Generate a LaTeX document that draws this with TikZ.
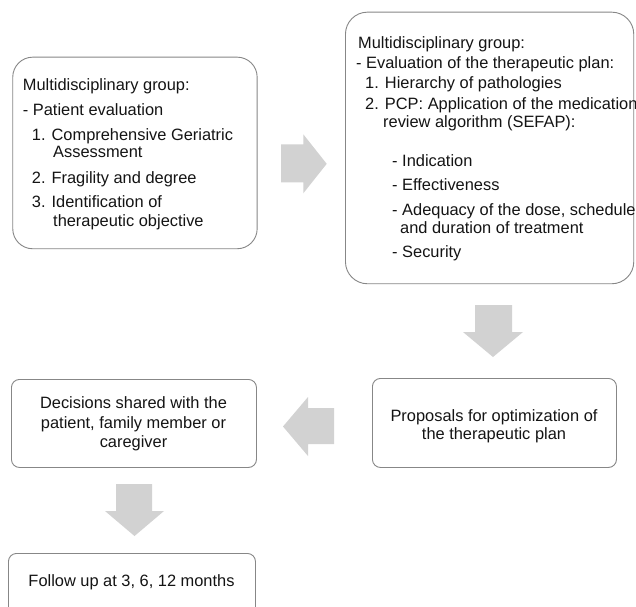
\documentclass[tikz,border=0pt]{standalone}
\usepackage{fontspec}
\setmainfont{Liberation Sans}
\definecolor{boxgray}{RGB}{135,135,135}
\definecolor{arrowgray}{RGB}{210,210,210}
\definecolor{textblack}{RGB}{20,20,20}
\begin{document}
\begin{tikzpicture}[x=1pt,y=-1pt,
  roundbox/.style={draw=boxgray, line width=0.9pt, rounded corners=#1, inner sep=0pt, anchor=north west, fill=white},
  txt/.style={anchor=base west, inner sep=0pt, font=\fontsize{16.4}{19}\selectfont, text=textblack},
  ctxt/.style={anchor=base, inner sep=0pt, font=\fontsize{16.4}{19}\selectfont, text=textblack},
  blockarrow/.style={fill=arrowgray, draw=none}]
\useasboundingbox (0,0) rectangle (636,606);
\clip (0,0) rectangle (636,606);
\fill[white] (0,0) rectangle (636,606);

% boxes
\node[roundbox=20pt, minimum width=244.4pt, minimum height=191.6pt] (b1) at (12.3,56.7) {};
\node[roundbox=22pt, minimum width=288.3pt, minimum height=271.6pt] (b2) at (345,11.7) {};
\node[roundbox=8pt, minimum width=244pt, minimum height=89pt] (b3) at (372,378) {};
\node[roundbox=8pt, minimum width=245pt, minimum height=88pt] (b4) at (11,379) {};
\node[roundbox=8pt, minimum width=247pt, minimum height=90pt] (b5) at (8,553) {};

% box 1 text
\node[txt] (t1a) at (22.7,90) {Multidisciplinary group:};
\node[txt] (t1b) at (22.7,115) {- Patient evaluation};
\node[txt] (t1c) at (31.7,140) {1. Comprehensive Geriatric};
\node[txt] (t1d) at (53,157.5) {Assessment};
\node[txt] (t1e) at (31.7,183) {2. Fragility and degree};
\node[txt] (t1f) at (31.7,207.5) {3. Identification of};
\node[txt] (t1g) at (53,226) {therapeutic objective};

% box 2 text
\node[txt] (t2a) at (358,48) {Multidisciplinary group:};
\node[txt] (t2b) at (356,68) {- Evaluation of the therapeutic plan:};
\node[txt] (t2c) at (365,88) {1. Hierarchy of pathologies};
\node[txt] (t2d) at (365,109) {2. PCP: Application of the medication};
\node[txt] (t2e) at (383,127) {review algorithm (SEFAP):};
\node[txt] (t2f) at (392,166) {- Indication};
\node[txt] (t2g) at (392,190) {- Effectiveness};
\node[txt] (t2h) at (392,215) {- Adequacy of the dose, schedule};
\node[txt] (t2i) at (400,233) {and duration of treatment};
\node[txt] (t2j) at (392,257) {- Security};

% box 3 text
\node[ctxt] (t3a) at (494,421) {Proposals for optimization of};
\node[ctxt] (t3b) at (494,439) {the therapeutic plan};

% box 4 text
\node[ctxt] (t4a) at (133.5,408) {Decisions shared with the};
\node[ctxt] (t4b) at (133.5,428) {patient, family member or};
\node[ctxt] (t4c) at (133.5,447) {caregiver};

% box 5 text
\node[ctxt] (t5a) at (131.5,586) {Follow up at 3, 6, 12 months};

% block arrows
\fill[blockarrow] (281,144.3) -- (303.3,144.3) -- (303.3,134.3) -- (326.7,163.8) -- (303.3,193.3) -- (303.3,182.3) -- (281,182.3) -- cycle;
\fill[blockarrow] (475,305) -- (512,305) -- (512,332) -- (523,332) -- (493,357) -- (463,332) -- (475,332) -- cycle;
\fill[blockarrow] (334,408) -- (308,408) -- (308,397) -- (283,426.5) -- (308,456) -- (308,444) -- (334,444) -- cycle;
\fill[blockarrow] (116,484) -- (152,484) -- (152,511) -- (164,511) -- (134.5,536) -- (105,511) -- (116,511) -- cycle;
\end{tikzpicture}
\end{document}
